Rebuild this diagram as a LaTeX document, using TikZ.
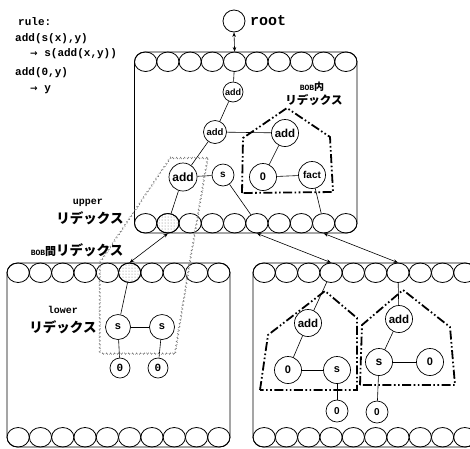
\documentclass[tikz,border=0pt]{standalone}
\usepackage{fontspec}
\setmonofont{Liberation Mono}
\setsansfont{Liberation Sans}
\newfontfamily\jp{Noto Sans CJK JP}
\newfontfamily\symf{DejaVu Sans}
\usetikzlibrary{shapes.geometric,arrows.meta,decorations.pathmorphing,patterns}
\begin{document}
\begin{tikzpicture}[x=1pt,y=-1pt,
  cell/.style={draw, ellipse, minimum width=22.25pt, minimum height=19.5pt, inner sep=0pt, line width=0.8pt},
  bob/.style={draw, rounded corners=10pt, line width=0.8pt, inner sep=0pt},
  tn/.style={draw, circle, fill=white, inner sep=0pt, line width=0.7pt},
  ed/.style={line width=0.6pt},
  dd/.style={line width=1.8pt, dash pattern=on 9pt off 2.5pt on 1.6pt off 2.5pt on 1.6pt off 2.5pt},
  biarrow/.style={line width=0.6pt, {Stealth[length=4.5pt,width=3.5pt]}-{Stealth[length=4.5pt,width=3.5pt]}},
  squig/.style={draw=black!55, line width=0.45pt, dash pattern=on 4pt off 3pt, decorate, decoration={snake, amplitude=0.8pt, segment length=2pt}},
  dotfill/.style={pattern=dots, pattern color=black!55},
  code/.style={font=\ttfamily\bfseries\fontsize{11}{12}\selectfont, anchor=base west, inner sep=0pt},
  lbl/.style={inner sep=0pt},
]
\clip (0,0) rectangle (470,448);
\useasboundingbox (0,0) rectangle (470,448);

% rule text
\node[code] (r0) at (18,25.5) {rule:};
\node[code] (r1) at (15,41.5) {add(s(x),y)};
\node[code] (r2) at (30,56.5) {{\symf\bfseries\fontsize{9}{9}\selectfont →} s(add(x,y))};
\node[code] (r3) at (15,75.5) {add(0,y)};
\node[code] (r4) at (30,91.5) {{\symf\bfseries\fontsize{9}{9}\selectfont →} y};

% root
\node[draw, circle, minimum size=22pt, inner sep=0pt, line width=0.8pt] (root) at (234,21) {};
\node[anchor=base west, inner sep=0pt, font=\ttfamily\bfseries\fontsize{15}{15}\selectfont] (rootlbl) at (250,25.5) {root};

% boxes
\node[bob, minimum width=222.5pt, minimum height=181pt] (TB) at (245.75,142.5) {};
\node[bob, minimum width=223pt, minimum height=184pt] (LB) at (118.5,355) {};
\node[bob, minimum width=223pt, minimum height=184pt] (RB) at (364.5,355) {};

% cells
\foreach \i in {1,...,10} {
  \node[cell] (T\i) at ({134.5+11.125+22.25*(\i-1)},61.75) {};
  \node[cell] (U\i) at ({134.5+11.125+22.25*(\i-1)},223.25) {};
  \node[cell] (LA\i) at ({7+11.15+22.3*(\i-1)},272.75) {};
  \node[cell] (LB\i) at ({7+11.15+22.3*(\i-1)},437.25) {};
  \node[cell] (RA\i) at ({253+11.15+22.3*(\i-1)},272.75) {};
  \node[cell] (RB\i) at ({253+11.15+22.3*(\i-1)},437.25) {};
}
\node[cell, dotfill] at (U2) {};
\node[cell, dotfill] at (LA6) {};

% top box nodes
\node[tn, minimum size=20pt, font=\sffamily\bfseries\fontsize{9}{9}\selectfont] (a1) at (233,92) {add};
\node[tn, minimum size=23pt, font=\sffamily\bfseries\fontsize{9.5}{9.5}\selectfont] (a2) at (215,132) {add};
\node[tn, minimum size=27pt, font=\sffamily\bfseries\fontsize{11.5}{11.5}\selectfont] (a3) at (285,133) {add};
\node[tn, minimum size=28pt, font=\sffamily\bfseries\fontsize{12}{12}\selectfont] (a4) at (183,177) {add};
\node[tn, minimum size=22pt, font=\sffamily\bfseries\fontsize{10}{10}\selectfont] (s1) at (223,175) {s};
\node[tn, minimum size=27pt, font=\sffamily\bfseries\fontsize{11}{11}\selectfont] (z1) at (263,177) {0};
\node[tn, minimum size=27pt, font=\sffamily\bfseries\fontsize{10}{10}\selectfont] (f1) at (312,175) {fact};

\draw[ed] (T5) -- (a1);
\draw[ed] (a1) -- (a2);
\draw[ed] (a2) -- (a4);
\draw[ed] (a2) -- (a3);
\draw[ed] (a3) -- (z1);
\draw[ed] (z1) -- (f1);
\draw[ed] (a4) -- (s1);
\draw[ed] (a4) -- (U2);
\draw[ed] (s1) -- (U6);
\draw[ed] (f1) -- (U9);

% bottom-left box nodes
\node[tn, minimum size=25pt, font=\ttfamily\bfseries\fontsize{11}{11}\selectfont] (sl1) at (118,327) {s};
\node[tn, minimum size=25pt, font=\ttfamily\bfseries\fontsize{11}{11}\selectfont] (sl2) at (162,327) {s};
\node[tn, minimum size=20pt, font=\ttfamily\bfseries\fontsize{11}{11}\selectfont] (zl1) at (120,368) {0};
\node[tn, minimum size=20pt, font=\ttfamily\bfseries\fontsize{11}{11}\selectfont] (zl2) at (158,368) {0};
\draw[ed] (LA6) -- (sl1);
\draw[ed] (sl1) -- (sl2);
\draw[ed] (sl1) -- (zl1);
\draw[ed] (sl2) -- (zl2);

% bottom-right box nodes
\node[tn, minimum size=27pt, font=\sffamily\bfseries\fontsize{11.5}{11.5}\selectfont] (al) at (308,323) {add};
\node[tn, minimum size=27pt, font=\sffamily\bfseries\fontsize{11}{11}\selectfont] (zr1) at (288,370) {0};
\node[tn, minimum size=27pt, font=\sffamily\bfseries\fontsize{11}{11}\selectfont] (sr1) at (337,370) {s};
\node[tn, minimum size=22pt, font=\sffamily\bfseries\fontsize{10}{10}\selectfont] (zr2) at (337,411) {0};
\node[tn, minimum size=27pt, font=\sffamily\bfseries\fontsize{11.5}{11.5}\selectfont] (ar) at (399,319) {add};
\node[tn, minimum size=27pt, font=\ttfamily\bfseries\fontsize{12}{12}\selectfont] (sr2) at (379,362) {s};
\node[tn, minimum size=27pt, font=\sffamily\bfseries\fontsize{11}{11}\selectfont] (zr3) at (430,362) {0};
\node[tn, minimum size=22pt, font=\sffamily\bfseries\fontsize{10}{10}\selectfont] (zr4) at (377,412) {0};
\draw[ed] (RA4) -- (al);
\draw[ed] (al) -- (zr1);
\draw[ed] (zr1) -- (sr1);
\draw[ed] (sr1) -- (zr2);
\draw[ed] (RA7) -- (ar);
\draw[ed] (ar) -- (sr2);
\draw[ed] (sr2) -- (zr3);
\draw[ed] (sr2) -- (zr4);

% redex outlines
\draw[dd] (242,193) -- (243,138) -- (287,108) -- (330,137) -- (333,192) -- cycle;
\draw[dd] (260,390) -- (268,335) -- (325,291) -- (357,318) -- (357,390) -- cycle;
\draw[dd] (360,385) -- (362,325) -- (403,290) -- (450,327) -- (455,385) -- cycle;
\path[squig] (172,158) -- (208,158) -- (190,263) -- (175,355) -- (100,355) -- (100,265) -- cycle;

% arrows
\draw[biarrow] (root.south) -- (T5.north);
\draw[biarrow] (U2.south) -- (LA6.north);
\draw[biarrow] (U6.south) -- (RA4.north);
\draw[biarrow] (U9.south) -- (RA7.north);

% labels
\node[lbl] (bobin) at (312,87) {{\ttfamily\bfseries\fontsize{8}{8}\selectfont BOB}{\jp\bfseries\fontsize{10}{10}\selectfont 内}};
\node[lbl] (bobinR) at (314,100) {\jp\bfseries\fontsize{11.5}{12}\selectfont リデックス};
\node[lbl] (upper) at (88,203) {\ttfamily\bfseries\fontsize{10}{10}\selectfont upper};
\node[lbl] (upperR) at (90,218) {\jp\bfseries\fontsize{13.5}{14}\selectfont リデックス};
\node[lbl] (bobkan) at (77,250) {{\ttfamily\bfseries\fontsize{8}{8}\selectfont BOB}{\jp\bfseries\fontsize{11}{11}\selectfont 間}{\jp\bfseries\fontsize{13.5}{14}\selectfont リデックス}};
\node[lbl] (lower) at (63,310) {\ttfamily\bfseries\fontsize{10}{10}\selectfont lower};
\node[lbl] (lowerR) at (63,327) {\jp\bfseries\fontsize{13.5}{14}\selectfont リデックス};
\end{tikzpicture}
\end{document}
